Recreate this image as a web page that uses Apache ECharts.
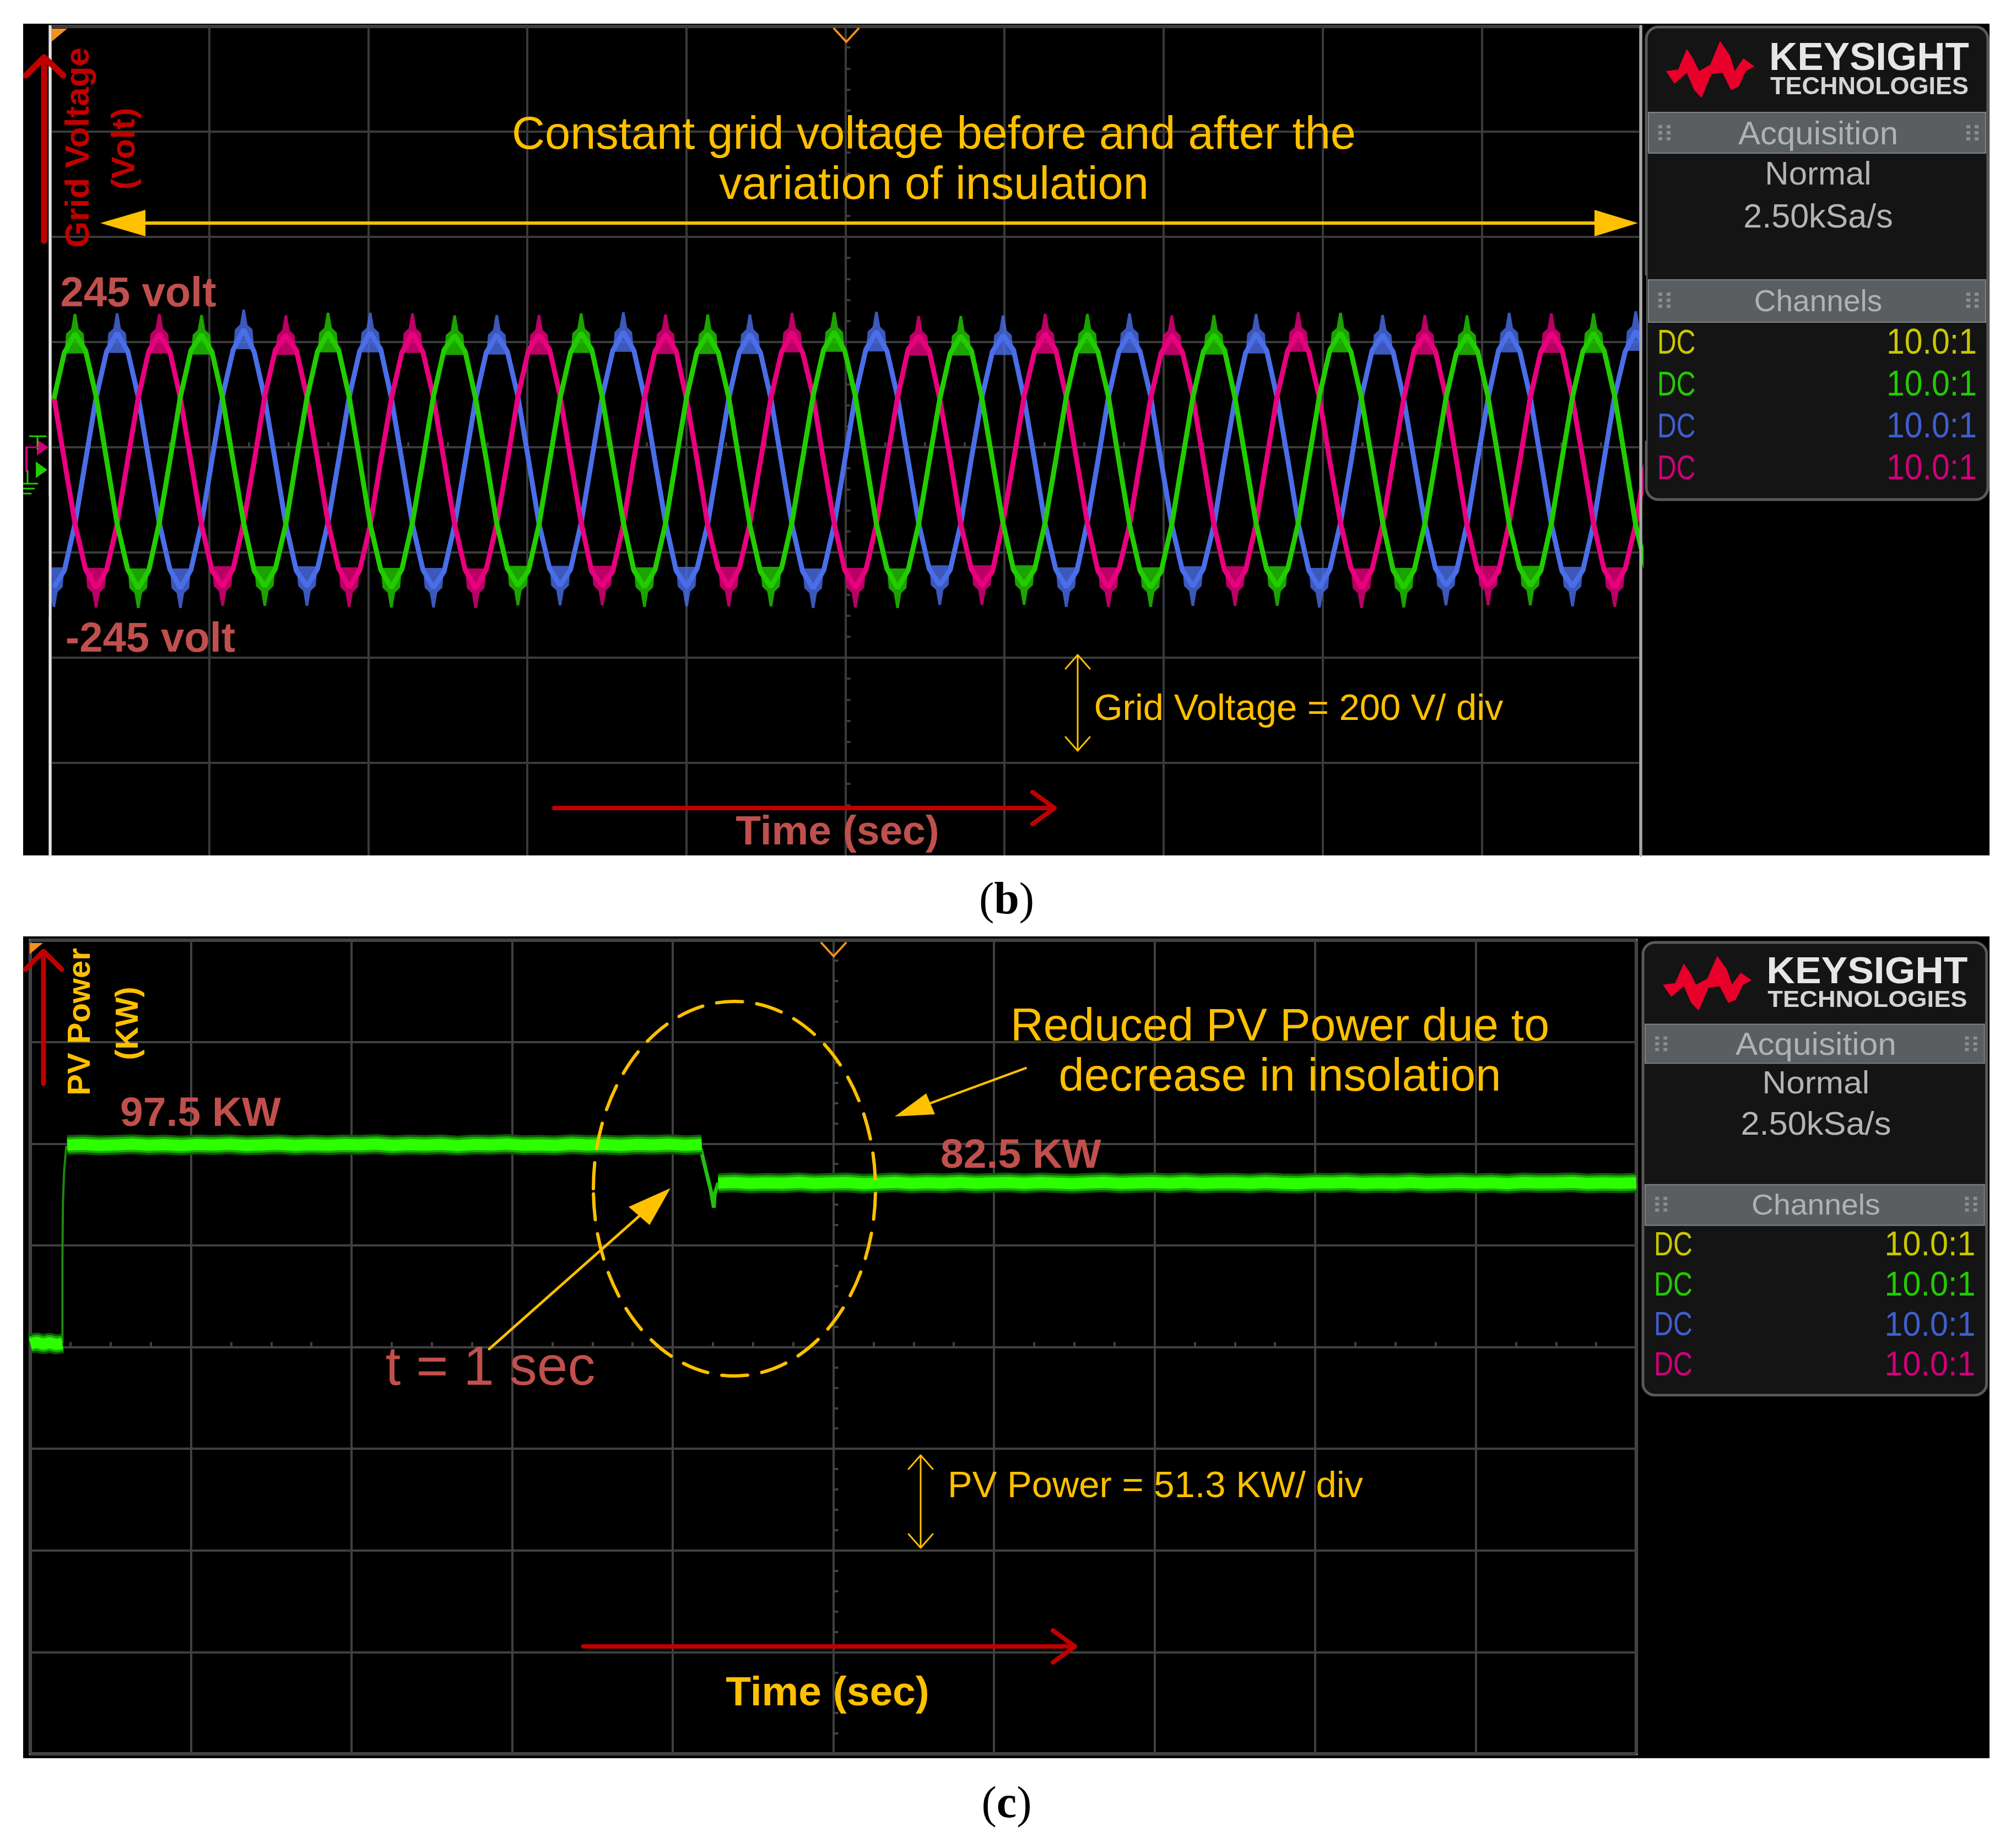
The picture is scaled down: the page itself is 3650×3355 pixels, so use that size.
<!DOCTYPE html>
<html lang="en">
<head>
    <meta charset="UTF-8">
    <title>Grid voltage and PV power</title>
    <script src="https://cdn.jsdelivr.net/npm/echarts@6/dist/echarts.min.js"></script>
    <style type="text/css">
        body { margin: 0; background: #fff; }
        .screen { position: absolute; left: 42px; width: 3569px; background: #000; }
        #main { position: absolute; left: 0; top: 0; width: 3650px; height: 3355px; }
    </style>
</head>
<body>
    <div class="screen" style="top:43px;height:1510px;"></div>
    <div class="screen" style="top:1700px;height:1492px;"></div>
    <div id="main"></div>

    <script type="text/javascript">
        // (b) grid voltage, volts, one sample every 0.0663 div
        var voltStart = -4.9766;
        var voltStep = 0.0663;
        var greenVolts = [
            92,180,216,184,97,-24,-146,-232,-268,-234,-143,-26,
            96,184,214,181,93,-27,-144,-235,-264,-231,-146,-23,
            94,182,218,185,96,-25,-147,-233,-267,-232,-144,-25,
            97,185,213,182,92,-23,-145,-230,-263,-235,-147,-28,
            93,181,217,186,95,-26,-143,-234,-266,-233,-145,-24,
            95,183,215,180,94,-28,-148,-236,-265,-230,-142,-22,
            98,186,219,183,97,-24,-146,-231,-268,-234,-146,-27,
            91,179,212,184,93,-25,-144,-233,-262,-232,-143,-25,
            96,184,216,182,96,-27,-147,-235,-266,-236,-148,-26,
            94,182,214,185,94,-23,-145,-232,-264,-231,-144,-24,
            97,185,218,181,92,-26,-143,-234,-267,-233,-146,-28,
            93,180,213,183,95,-25,-146,-230,-263,-235,-145,-23,
            95,183,217,184,97,-24,-148,-233
        ];
        var blueVolts = [
            -266,-234,-146,-26,94,182,217,183,96,-24,-144,-232,
            -268,-233,-145,-23,97,185,224,181,93,-27,-147,-235,
            -264,-231,-143,-25,95,183,218,186,94,-25,-146,-233,
            -267,-236,-148,-28,92,180,214,182,97,-23,-145,-230,
            -263,-232,-144,-24,96,184,219,184,95,-26,-143,-234,
            -265,-230,-146,-27,93,181,215,180,92,-28,-148,-236,
            -268,-234,-147,-25,98,186,220,183,96,-24,-144,-231,
            -262,-233,-145,-22,94,182,213,185,93,-25,-146,-232,
            -266,-235,-143,-26,95,183,217,182,97,-27,-147,-233,
            -264,-231,-148,-24,91,179,216,184,94,-23,-145,-234,
            -267,-232,-144,-28,96,184,214,181,92,-26,-143,-230,
            -263,-236,-146,-25,93,185,218,183,95,-25,-146,-235,
            -265,-233,-145,-23,97,182,221,186
        ];
        var pinkVolts = [
            96,-25,-145,-232,-267,-233,-146,-24,94,183,216,182,
            93,-27,-147,-235,-264,-231,-143,-26,97,185,213,184,
            95,-23,-144,-230,-266,-234,-148,-25,92,180,217,181,
            94,-26,-146,-233,-268,-232,-145,-28,96,184,214,186,
            98,-24,-143,-236,-263,-235,-147,-22,93,182,215,183,
            91,-25,-148,-231,-265,-230,-144,-27,95,181,218,180,
            97,-28,-145,-234,-267,-233,-146,-24,94,186,212,184,
            92,-23,-147,-232,-262,-236,-143,-25,96,183,216,185,
            95,-26,-144,-235,-266,-231,-148,-27,93,179,213,182,
            97,-24,-146,-233,-264,-234,-145,-23,98,184,219,181,
            94,-27,-143,-230,-268,-232,-147,-26,92,185,214,183,
            96,-25,-148,-234,-263,-235,-144,-28,95,182,217,186,
            93,-24,-145,-233,-266,-231,-146,-25
        ];

        // (c) PV power, KW against div
        var baseTime = [-5,-4.96,-4.92,-4.88,-4.84,-4.80];
        var baseKw = [1.6,2.4,1.4,2.2,1.3,1.8];
        var riseTime = [-4.80,-4.80,-4.797,-4.79,-4.776];
        var riseKw = [1.8,45,72,88,101.5];
        var highStart = -4.77;
        var highStep = 0.1013;
        var highKw = [
            101.9,102.2,101.7,102,102.3,101.8,102.1,101.6,102.2,101.9,
            102.3,101.7,102,102.3,101.7,102.1,101.8,102.2,102,102.4,
            101.7,102.1,101.9,102.2,101.6,102.2,102,102.4,101.8,102,
            101.7,102.3,101.9,102.1,101.7,102.2,102,102.3,101.8,102.2
        ];
        var dropTime = [-0.825,-0.808,-0.763,-0.744,-0.739,-0.717];
        var dropKw = [100,94,79,70.3,77,82.8];
        var lowStart = -0.717;
        var lowStep = 0.1003;
        var lowKw = [
            82.7,83,82.5,82.8,82.6,83.1,82.5,82.8,83,82.4,
            82.7,83.1,82.5,82.9,82.6,83.1,82.5,82.8,83,82.5,
            83,82.7,82.4,82.8,83.1,82.5,82.8,83,82.6,83.1,
            82.5,82.8,82.9,82.5,83,82.6,82.4,82.9,82.7,83.1,
            82.5,82.8,82.6,83.1,82.5,82.7,83,82.6,82.9,82.4,
            83,82.7,82.8,83.1,82.5,82.8,82.6,82.9
        ];

        var channelColors = ['#c8c800', '#22cc00', '#3f5fd0', '#d0007a'];
        var yellow = '#ffc000';
        var darkRed = '#c00000';
        var brick = '#c0504d';
        var sansBold = 'bold {s}px "Liberation Sans"';
        var sans = '{s}px "Liberation Sans"';
        // broad noisy shoulder with a thin spike on top
        var tipShape = 'path://M0 100 L8 50 L32 38 L44 0 L56 0 L68 38 L92 50 L100 100 Z';

        function bold(size) { return sansBold.replace('{s}', size); }
        function regular(size) { return sans.replace('{s}', size); }

        function sampled(start, step, values) {
            return values.map(function (v, i) { return [start + i * step, v]; });
        }
        function paired(times, values) {
            return values.map(function (v, i) { return [times[i], v]; });
        }
        // the thick noisy tips of the voltage traces
        function tips(values, up) {
            var res = [];
            values.forEach(function (v, i) {
                var a = values[i - 1], b = values[i + 1];
                if (up && v > 150 && v > a && v > b) res.push([voltStart + i * voltStep, v]);
                if (!up && v < -200 && (a === undefined || v < a) && (b === undefined || v < b)) res.push([voltStart + i * voltStep, v]);
            });
            return res;
        }

        function lineSeries(idx, data, color, width) {
            return {
                type: 'line', xAxisIndex: idx, yAxisIndex: idx, data: data, symbol: 'none', silent: true,
                animation: false, clip: true, lineStyle: { color: color, width: width, join: 'bevel' }
            };
        }
        function tipSeries(data, color, rotate) {
            return {
                type: 'scatter', xAxisIndex: 0, yAxisIndex: 0, data: data, symbol: tipShape, symbolSize: [38, 72],
                symbolRotate: rotate, silent: true, animation: false, clip: true, itemStyle: { color: color }
            };
        }
        function axisParts(color, minorCount) {
            return {
                axisLabel: { show: false },
                axisLine: { show: true, onZero: true, lineStyle: { color: color, width: 4 } },
                axisTick: { show: true, length: 9, inside: true, lineStyle: { color: color, width: 4 } },
                minorTick: { show: true, splitNumber: minorCount, length: 9, lineStyle: { color: color, width: 4 } },
                splitLine: { show: true, lineStyle: { color: color, width: 4 } }
            };
        }
        function xAxisFor(idx, color) {
            return Object.assign({ type: 'value', gridIndex: idx, min: -5, max: 5, interval: 1 }, axisParts(color, 4));
        }
        function yAxisFor(idx, lim, step, color) {
            return Object.assign({ type: 'value', gridIndex: idx, min: -lim, max: lim, interval: step }, axisParts(color, 5));
        }

        // annotation helpers; text middle sits a little high, hence the 4px
        function label(str, x, y, font, fill, extra) {
            var turned = extra && extra.rotation;
            return Object.assign({
                type: 'text', x: turned ? x + 4 : x, y: turned ? y : y + 4, silent: true,
                style: { text: str, font: font, fill: fill, align: (extra && extra.align) || 'center', verticalAlign: 'middle' }
            }, extra);
        }
        function path(points, color, width, extra) {
            return Object.assign({
                type: 'polyline', silent: true, shape: { points: points },
                style: { stroke: color, lineWidth: width, fill: null, lineCap: 'round', lineJoin: 'round' }
            }, extra);
        }
        function solid(points, color) {
            return { type: 'polygon', silent: true, shape: { points: points }, style: { fill: color } };
        }
        function block(x, y, w, h, color) {
            return { type: 'rect', silent: true, shape: { x: x, y: y, width: w, height: h }, style: { fill: color } };
        }
        function caption(letter, y) {
            return {
                type: 'text', x: 1827, y: y, silent: true,
                style: { text: '{p|(}{b|' + letter + '}{p|)}', align: 'center', verticalAlign: 'middle', rich: {
                    p: { font: '82px "Liberation Serif"', fill: '#000' },
                    b: { font: 'bold 82px "Liberation Serif"', fill: '#000' }
                } }
            };
        }

        var logoShape = [[165,190],[215,185],[250,120],[275,150],[300,190],[345,170],[385,95],[425,140],[445,190],[480,150],[525,175],[490,190],[460,240],[430,250],[395,195],[350,200],[310,275],[280,250],[250,195],[200,230]];

        function grip(x, y) {
            var dots = [];
            [0, 1].forEach(function (c) {
                [0, 1, 2].forEach(function (r) {
                    dots.push(block(x + c * 15, y + r * 11, 7, 6, '#8a8e90'));
                });
            });
            return dots;
        }

        // the instrument side panel, laid out in its own coordinates
        function sidePanel(x, y, sx, sy) {
            var kids = [
                { type: 'rect', silent: true, shape: { x: 0, y: 0, width: 620, height: 858, r: 22 }, style: { fill: '#141414', stroke: '#5a5a5a', lineWidth: 5 } },
                { type: 'rect', silent: true, shape: { x: 4, y: 155, width: 612, height: 74 }, style: { fill: '#5a5e60', stroke: '#808486', lineWidth: 2 } },
                { type: 'rect', silent: true, shape: { x: 4, y: 459, width: 612, height: 77 }, style: { fill: '#5a5e60', stroke: '#808486', lineWidth: 2 } },
                solid(logoShape.map(function (p) { return [p[0] / 2.24 - 38, p[1] / 1.742 - 29]; }), '#e8002a'),
                label('KEYSIGHT', 223, 54, bold(71), '#e6e6e6', { align: 'left' }),
                label('TECHNOLOGIES', 225, 106, bold(45), '#d4d4d4', { align: 'left' }),
                label('Acquisition', 312, 192, regular(60), '#aeb2b4'),
                label('Normal', 312, 265, regular(60), '#b4b4b4'),
                label('2.50kSa/s', 312, 343, regular(61), '#b4b4b4'),
                label('Channels', 312, 497, regular(55), '#aeb2b4')
            ];
            kids = kids.concat(grip(22, 178), grip(581, 178), grip(22, 482), grip(581, 482));
            [571, 647, 723, 799].forEach(function (rowY, i) {
                kids.push(label('DC', 20, rowY, regular(48), channelColors[i], { align: 'left', scaleY: 1.33 }));
                kids.push(label('10.0:1', 600, rowY, regular(59), channelColors[i], { align: 'right', scaleY: 1.1 }));
            });
            return { type: 'group', x: x, y: y, scaleX: sx, scaleY: sy, children: kids };
        }

        var annotations = [
            // screenshot (b) is cropped below the last division
            block(0, 1553, 3650, 60, '#fff'),
            // tips at the two edges stop at the screen border
            block(44, 900, 45, 220, '#000'),
            block(2981, 500, 7, 300, '#000'),

            // (b)
            path([[91, 48], [91, 1553]], '#e4e4e4', 5),
            path([[2978, 48], [2978, 1553]], '#a8a8a8', 5),
            solid([[93, 52], [122, 52], [93, 76]], '#f39020'),
            path([[1514, 52], [1536, 76], [1558, 52]], '#f39020', 4),
            solid([[67, 798], [88, 812], [67, 827]], channelColors[3]),
            solid([[65, 838], [86, 853], [65, 868]], channelColors[1]),
            path([[54, 792], [83, 792]], channelColors[1], 3),
            path([[68, 792], [68, 815]], channelColors[1], 3),
            path([[50, 812], [72, 812]], channelColors[3], 3),
            path([[48, 812], [48, 855]], channelColors[3], 4),
            path([[50, 878], [50, 855]], channelColors[1], 3),
            path([[43, 878], [68, 878]], channelColors[1], 3),
            path([[43, 887], [62, 887]], channelColors[1], 3),
            path([[43, 896], [56, 896]], channelColors[1], 3),
            path([[80, 437], [80, 104]], darkRed, 11),
            path([[47, 137], [80, 104], [115, 137]], darkRed, 11),
            label('Grid Voltage', 140, 268, bold(62), darkRed, { rotation: Math.PI / 2 }),
            label('(Volt)', 223, 270, bold(60), darkRed, { rotation: Math.PI / 2 }),
            label('Constant grid voltage before and after the', 1695, 243, regular(83), yellow),
            label('variation of insulation', 1695, 334, regular(83), yellow),
            path([[250, 405], [2900, 405]], yellow, 6),
            solid([[182, 405], [264, 381], [264, 429]], yellow),
            solid([[2973, 405], [2894, 381], [2894, 429]], yellow),
            label('245 volt', 251, 531, bold(76), brick),
            label('-245 volt', 273, 1158, bold(76), brick),
            path([[1956, 1190], [1956, 1362]], yellow, 3),
            path([[1934, 1214], [1956, 1189], [1978, 1214]], yellow, 3),
            path([[1934, 1338], [1956, 1363], [1978, 1338]], yellow, 3),
            label('Grid Voltage = 200 V/ div', 2357, 1285, regular(67), yellow),
            path([[1006, 1467], [1912, 1467]], darkRed, 8),
            path([[1874, 1438], [1914, 1467], [1874, 1496]], darkRed, 8),
            label('Time (sec)', 1520, 1508, bold(75), brick),
            sidePanel(2988, 49, 1, 1),
            caption('b', 1637),

            // (c)
            solid([[54, 1712], [78, 1712], [54, 1732]], '#f39020'),
            path([[1491, 1712], [1513, 1736], [1535, 1712]], '#f39020', 4),
            path([[79, 1967], [79, 1729]], darkRed, 9),
            path([[46, 1760], [79, 1727], [112, 1760]], darkRed, 9),
            label('PV Power', 143, 1855, bold(58), yellow, { rotation: Math.PI / 2 }),
            label('(KW)', 230, 1858, bold(57), yellow, { rotation: Math.PI / 2 }),
            label('97.5 KW', 364, 2019, bold(75), brick),
            label('82.5 KW', 1853, 2095, bold(75), brick),
            { type: 'ellipse', silent: true, shape: { cx: 1333, cy: 2158, rx: 256, ry: 340 },
                style: { fill: null, stroke: yellow, lineWidth: 6, lineDash: [47, 26], lineCap: 'round' } },
            path([[888, 2449], [1161, 2207]], yellow, 5),
            solid([[1217, 2157], [1141, 2191], [1179, 2224]], yellow),
            label('t = 1 sec', 890, 2482, regular(100), brick),
            label('Reduced PV Power due to', 2323, 1862, regular(83), yellow),
            label('decrease in insolation', 2323, 1953, regular(83), yellow),
            path([[1862, 1939], [1680, 2006]], yellow, 4),
            solid([[1624, 2027], [1681, 1985], [1697, 2023]], yellow),
            path([[1671, 2643], [1671, 2809]], yellow, 3),
            path([[1649, 2667], [1671, 2642], [1693, 2667]], yellow, 3),
            path([[1649, 2785], [1671, 2810], [1693, 2785]], yellow, 3),
            label('PV Power = 51.3 KW/ div', 2097, 2696, regular(67), yellow),
            path([[1059, 2989], [1949, 2989]], darkRed, 8),
            path([[1911, 2960], [1951, 2989], [1911, 3018]], darkRed, 8),
            label('Time (sec)', 1502, 3071, bold(75), yellow),
            sidePanel(2982, 1711, 1.006, 0.958),
            caption('c', 3278)
        ];
        // keep all of it above the axes and the traces
        annotations.forEach(function (el) { el.z = 100; el.zlevel = 1; });

        var blue = '#4a6ee8', pink = '#e8007e', green = '#22cc00';
        var highData = sampled(highStart, highStep, highKw);
        var lowData = sampled(lowStart, lowStep, lowKw);
        var baseData = paired(baseTime, baseKw);

        var myChart = echarts.init(document.getElementById('main'));
        myChart.setOption({
            animation: false,
            backgroundColor: 'transparent',
            grid: [
                { left: 91, top: 48, width: 2887, height: 1528, show: true, borderColor: '#a8a8a8', borderWidth: 5, backgroundColor: 'transparent' },
                { left: 55, top: 1707, width: 2915, height: 1477, show: true, borderColor: '#9a9a9a', borderWidth: 5, backgroundColor: 'transparent' }
            ],
            xAxis: [xAxisFor(0, '#3a3a3a'), xAxisFor(1, '#404040')],
            yAxis: [yAxisFor(0, 800, 200, '#3a3a3a'), yAxisFor(1, 205.2, 51.3, '#404040')],
            series: [
                lineSeries(0, sampled(voltStart, voltStep, blueVolts), blue, 9),
                tipSeries(tips(blueVolts, true), blue, 0),
                tipSeries(tips(blueVolts, false), blue, 180),
                lineSeries(0, sampled(voltStart, voltStep, pinkVolts), pink, 9),
                tipSeries(tips(pinkVolts, true), pink, 0),
                tipSeries(tips(pinkVolts, false), pink, 180),
                lineSeries(0, sampled(voltStart, voltStep, greenVolts), green, 9),
                tipSeries(tips(greenVolts, true), green, 0),
                tipSeries(tips(greenVolts, false), green, 180),

                lineSeries(1, paired(riseTime, riseKw), '#1a8a0a', 4),
                lineSeries(1, paired(dropTime, dropKw), '#22c010', 7),
                lineSeries(1, baseData, '#0e5a04', 36),
                lineSeries(1, highData, '#0e5a04', 36),
                lineSeries(1, lowData, '#0e5a04', 36),
                lineSeries(1, baseData, '#1cae08', 28),
                lineSeries(1, highData, '#1cae08', 28),
                lineSeries(1, lowData, '#1cae08', 28),
                lineSeries(1, baseData, '#2cff00', 20),
                lineSeries(1, highData, '#2cff00', 20),
                lineSeries(1, lowData, '#2cff00', 20)
            ],
            graphic: { z: 100, zlevel: 1, elements: annotations }
        });
    </script>
</body>
</html>
